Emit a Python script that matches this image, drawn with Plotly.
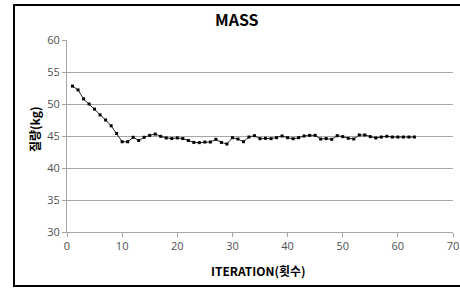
import plotly.graph_objects as go

iterations = list(range(1, 64))
mass_kg = [
    52.8, 52.2, 50.8, 50.0, 49.2, 48.3, 47.5, 46.6, 45.4, 44.1,
    44.1, 44.8, 44.3, 44.8, 45.1, 45.3, 44.95, 44.7, 44.6, 44.7,
    44.6, 44.3, 44.0, 43.96, 44.06, 44.06, 44.48, 44.0, 43.75, 44.74,
    44.53, 44.11, 44.84, 45.05, 44.58, 44.64, 44.58, 44.74, 45.0, 44.74,
    44.58, 44.74, 45.0, 45.1, 45.1, 44.53, 44.6, 44.48, 45.05, 44.9,
    44.64, 44.53, 45.16, 45.16, 44.9, 44.69, 44.84, 44.95, 44.84, 44.84,
    44.84, 44.84, 44.84,
]
x_ticks = [0, 10, 20, 30, 40, 50, 60, 70]
y_ticks = [30, 35, 40, 45, 50, 55, 60]

W, H = 460, 289
L, R, T, B = 67, 7, 40, 57
pw, ph = W - L - R, H - T - B

def px(xp):
    return (xp - L) / pw

def py(yp):
    return 1 - (yp - T) / ph

tick_font = dict(family="Open Sans, Noto Sans, sans-serif", size=11, color="#505050")
bold_font = "Noto Sans CJK KR, Noto Sans, sans-serif"

fig = go.Figure()
fig.add_trace(go.Scatter(
    x=iterations, y=mass_kg, mode="lines+markers",
    line=dict(color="#222222", width=1),
    marker=dict(symbol="square", size=3, color="#000000"),
    showlegend=False, cliponaxis=False,
))

fig.update_layout(
    width=W, height=H, autosize=False,
    margin=dict(l=L, r=R, t=T, b=B, autoexpand=False),
    paper_bgcolor="white", plot_bgcolor="white",
    xaxis=dict(
        range=[0, 70], tickvals=x_ticks, showgrid=False, zeroline=False,
        showline=True, linecolor="#a6a6a6", linewidth=1, automargin=False,
        ticks="outside", ticklen=4, tickcolor="#a6a6a6",
        tickfont=tick_font,
    ),
    yaxis=dict(
        range=[30, 60], tickvals=y_ticks, showgrid=True, gridcolor="#a6a6a6",
        gridwidth=1, zeroline=False, automargin=False,
        showline=True, linecolor="#a6a6a6", linewidth=1,
        ticks="outside", ticklen=4, tickcolor="#a6a6a6",
        tickfont=tick_font,
    ),
    shapes=[dict(
        type="rect", xref="paper", yref="paper",
        x0=px(14), x1=px(470), y0=py(286), y1=py(5),
        line=dict(color="#000000", width=2), fillcolor="rgba(0,0,0,0)",
        layer="below",
    )],
    annotations=[
        dict(text="<b>MASS</b>", xref="paper", yref="paper",
             x=px(237), y=py(19), showarrow=False,
             font=dict(family=bold_font, size=16, color="#000000"),
             xanchor="center", yanchor="middle"),
        dict(text="<b>ITERATION(횟수)</b>", xref="paper", yref="paper",
             x=px(258), y=py(270), showarrow=False,
             font=dict(family=bold_font, size=12, color="#000000"),
             xanchor="center", yanchor="middle"),
        dict(text="<b>질량(kg)</b>", xref="paper", yref="paper",
             x=px(34), y=py(130), showarrow=False, textangle=-90,
             font=dict(family=bold_font, size=12, color="#000000"),
             xanchor="center", yanchor="middle"),
    ],
)

fig.write_html("out.html", config={"displayModeBar": False},
               post_script="document.body.style.margin='0';")
